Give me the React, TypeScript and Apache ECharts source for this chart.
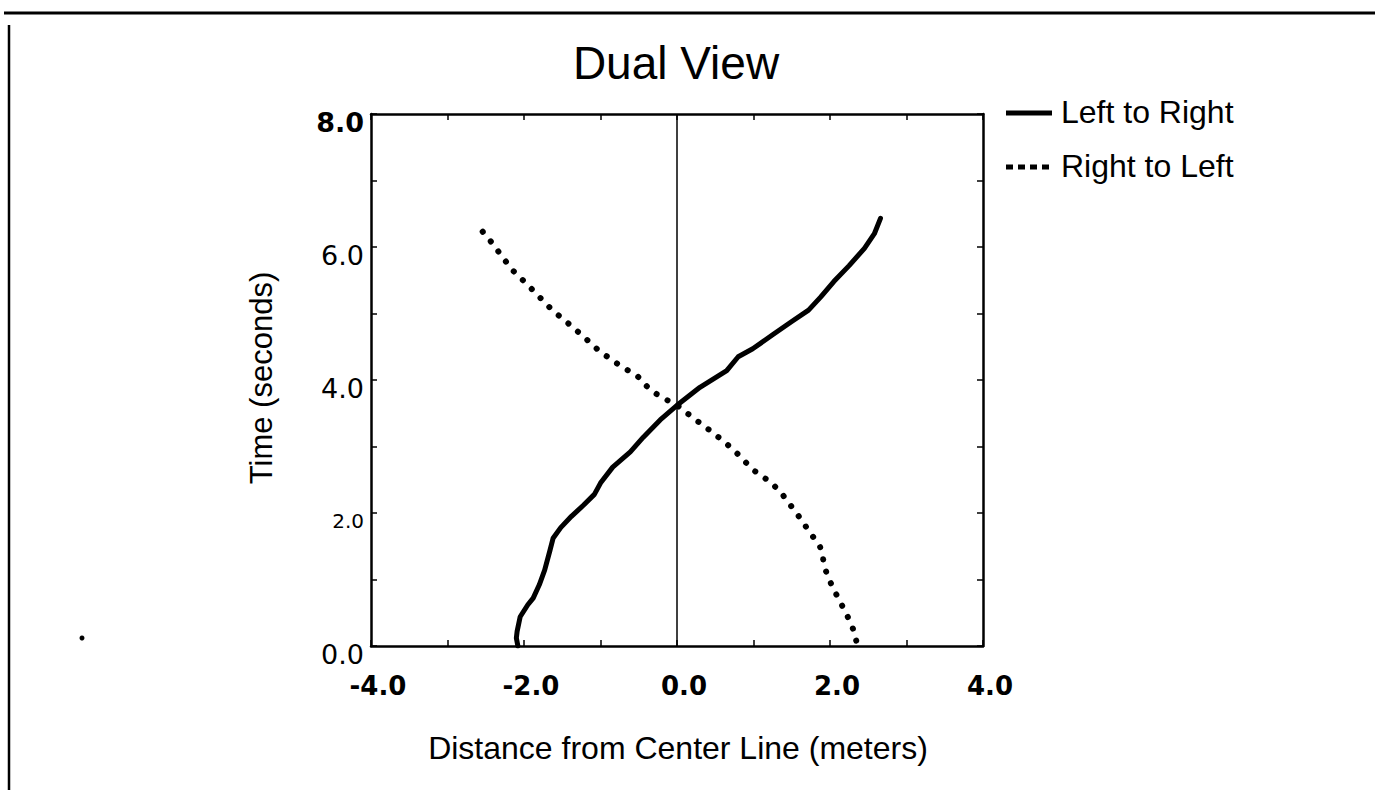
import React, { useEffect, useRef } from "react";
import * as echarts from "echarts";

// Left to Right (solid): distance (m) and time (s)
const ltrX = [-2.08, -2.1, -2.09, -2.05, -1.95, -1.88, -1.8, -1.73, -1.66, -1.62, -1.52, -1.38, -1.22, -1.08, -1.0, -0.84, -0.61, -0.44, -0.22, 0.0, 0.3, 0.65, 0.8, 0.99, 1.25, 1.5, 1.72, 1.88, 2.05, 2.25, 2.45, 2.58, 2.66];
const ltrT = [0.0, 0.12, 0.22, 0.44, 0.62, 0.72, 0.92, 1.14, 1.44, 1.62, 1.78, 1.95, 2.12, 2.28, 2.45, 2.69, 2.92, 3.14, 3.4, 3.62, 3.89, 4.14, 4.35, 4.47, 4.68, 4.88, 5.05, 5.25, 5.48, 5.72, 5.98, 6.2, 6.43];

// Right to Left (dotted)
const rtlX = [-2.54, -2.41, -2.27, -2.14, -1.96, -1.8, -1.63, -1.41, -1.22, -1.02, -0.8, -0.51, -0.35, -0.2, 0.0, 0.2, 0.42, 0.63, 0.82, 0.98, 1.24, 1.39, 1.58, 1.76, 1.86, 1.9, 1.92, 1.97, 2.04, 2.13, 2.22, 2.3, 2.35];
const rtlT = [6.23, 6.05, 5.83, 5.64, 5.44, 5.25, 5.05, 4.84, 4.65, 4.44, 4.26, 4.05, 3.85, 3.74, 3.62, 3.44, 3.25, 3.06, 2.86, 2.66, 2.45, 2.26, 1.97, 1.67, 1.52, 1.4, 1.22, 1.05, 0.87, 0.67, 0.47, 0.26, 0.05];

const seriesNames = ["Left to Right", "Right to Left"];
const title = "Dual View";
const xName = "Distance from Center Line (meters)";
const yName = "Time (seconds)";
const xMin = -4, xMax = 4, yMin = 0, yMax = 8, tickStep = 1;

const FONT = '"Liberation Sans", Arial, Helvetica, sans-serif';
const TICKFONT = '"DejaVu Sans", Verdana, sans-serif';

export default function App() {
  const ref = useRef<HTMLDivElement>(null);
  useEffect(() => {
    if (!ref.current) return;
    const chart = echarts.init(ref.current, null, { renderer: "svg" });
    const zip = (xs: number[], ys: number[]) => xs.map((x, i) => [x, ys[i]]);
    const axisLine = { show: true, onZero: false, lineStyle: { color: "#000", width: 2.5 } };
    const axisTick = { show: true, inside: true, length: 6, lineStyle: { color: "#000", width: 1.5 } };
    chart.setOption({
      animation: false,
      backgroundColor: "#fff",
      grid: { left: 371, right: 392, top: 114, bottom: 144, containLabel: false },
      xAxis: [
        {
          type: "value", min: xMin, max: xMax, interval: tickStep, position: "bottom",
          axisLine, axisTick, splitLine: { show: false },
          axisLabel: {
            formatter: (v: number) => (Math.round(v) % 2 === 0 ? v.toFixed(1) : ""),
            fontFamily: TICKFONT, fontWeight: "bold", fontSize: 26, color: "#000", margin: 27,
            padding: [0, 0, 0, 14],
          },
        },
        {
          type: "value", min: xMin, max: xMax, interval: tickStep, position: "top",
          axisLine, axisTick, axisLabel: { show: false }, splitLine: { show: false },
        },
      ],
      yAxis: [
        {
          type: "value", min: yMin, max: yMax, interval: tickStep, position: "left",
          axisLine, axisTick, splitLine: { show: false },
          axisLabel: {
            margin: 7,
            padding: [16, 0, 0, 0],
            formatter: (v: number) => {
              if (v === 8) return "{b|8.0}";
              if (v === 2) return "{s|2.0}";
              return Math.round(v) % 2 === 0 ? "{r|" + v.toFixed(1) + "}" : "";
            },
            rich: {
              b: { fontFamily: TICKFONT, fontWeight: "bold", fontSize: 27, color: "#000" },
              r: { fontFamily: TICKFONT, fontSize: 27, color: "#000" },
              s: { fontFamily: TICKFONT, fontSize: 20, color: "#000" },
            },
          },
        },
        {
          type: "value", min: yMin, max: yMax, interval: tickStep, position: "right",
          axisLine, axisTick, axisLabel: { show: false }, splitLine: { show: false },
        },
      ],
      series: [
        {
          name: seriesNames[0], type: "line", data: zip(ltrX, ltrT), showSymbol: false,
          lineStyle: { color: "#000", width: 5, cap: "round", join: "round" },
          markLine: {
            silent: true, symbol: ["none", "none"], label: { show: false },
            lineStyle: { color: "#000", width: 1.5, type: "solid" },
            data: [{ xAxis: 0 }],
          },
        },
        {
          name: seriesNames[1], type: "line", data: zip(rtlX, rtlT), showSymbol: false,
          lineStyle: { color: "#000", width: 6, type: [0.1, 12.5], cap: "round" },
        },
      ],
      graphic: [
        { type: "line", shape: { x1: 4, y1: 13, x2: 1375, y2: 13 }, style: { stroke: "#000", lineWidth: 3 } },
        { type: "line", shape: { x1: 9, y1: 25, x2: 9, y2: 790 }, style: { stroke: "#000", lineWidth: 2.5 } },
        { type: "circle", shape: { cx: 82, cy: 638, r: 2.5 }, style: { fill: "#000" } },
        {
          type: "text", x: 676, y: 63,
          style: { text: title, fontFamily: FONT, fontSize: 46, fill: "#000", align: "center", verticalAlign: "middle" },
        },
        { type: "line", shape: { x1: 1006, y1: 113, x2: 1052, y2: 113 }, style: { stroke: "#000", lineWidth: 5 } },
        { type: "line", shape: { x1: 1006, y1: 167, x2: 1052, y2: 167 }, style: { stroke: "#000", lineWidth: 5, lineDash: [7, 5] } },
        {
          type: "text", x: 1061, y: 112,
          style: { text: seriesNames[0], fontFamily: FONT, fontSize: 32, fill: "#000", align: "left", verticalAlign: "middle" },
        },
        {
          type: "text", x: 1061, y: 166,
          style: { text: seriesNames[1], fontFamily: FONT, fontSize: 32, fill: "#000", align: "left", verticalAlign: "middle" },
        },
        {
          type: "text", x: 678, y: 748,
          style: { text: xName, fontFamily: FONT, fontSize: 32, fill: "#000", align: "center", verticalAlign: "middle" },
        },
        {
          type: "text", x: 261, y: 378, rotation: Math.PI / 2,
          style: { text: yName, fontFamily: FONT, fontSize: 31, fill: "#000", align: "center", verticalAlign: "middle" },
        },
      ],
    });
    return () => chart.dispose();
  }, []);
  return (
    <div
      ref={ref}
      style={{ position: "fixed", left: 0, top: 0, width: 1375, height: 790, background: "#fff" }}
    />
  );
}
